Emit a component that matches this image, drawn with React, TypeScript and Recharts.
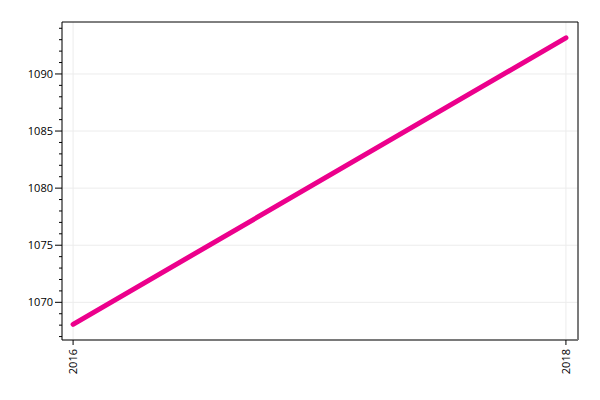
import React from "react";
import { LineChart, Line, XAxis, YAxis, CartesianGrid, ReferenceLine } from "recharts";

const years = [2016, 2018];
const values = [1068.07, 1093.16];
const yMajor = [1070, 1075, 1080, 1085, 1090];
const yMinor = Array.from({ length: 28 }, (_, i) => 1067 + i);
const xTicks = [2016, 2018];

const data = years.map((y, i) => ({ year: y, value: values[i] }));

const X_DOMAIN: [number, number] = [2015.955, 2018.049];
const Y_DOMAIN: [number, number] = [1066.7, 1094.55];

const FONT = "'Open Sans', sans-serif";

const YTick = (props: any) => {
  const { x, y, payload } = props;
  const major = payload.value % 5 === 0;
  return (
    <g>
      <line x1={x - (major ? 7 : 3)} x2={x} y1={y} y2={y} stroke="#000" strokeWidth={1} />
      {major && (
        <text x={x - 9} y={y} dy="0.35em" textAnchor="end" fontSize={11} fontFamily={FONT} fill="#000">
          {payload.value}
        </text>
      )}
    </g>
  );
};

const XTick = (props: any) => {
  const { x, y, payload } = props;
  return (
    <g>
      <line x1={x} x2={x} y1={y - 9} y2={y - 4} stroke="#000" strokeWidth={1} />
      <text
        x={x}
        y={y}
        dy="0.35em"
        textAnchor="end"
        transform={`rotate(-90, ${x}, ${y})`}
        fontSize={11}
        fontFamily={FONT}
        fill="#000"
      >
        {payload.value}
      </text>
    </g>
  );
};

export default function App() {
  return (
    <div style={{ width: 600, height: 400 }}>
      <LineChart width={600} height={400} data={data} margin={{ top: 14, right: 30, bottom: 28, left: 0 }}>
        <CartesianGrid horizontal={false} stroke="#ececec" />
        {yMajor.map((v) => (
          <ReferenceLine key={v} y={v} stroke="#ececec" />
        ))}
        <ReferenceLine y={Y_DOMAIN[1]} stroke="#000" ifOverflow="visible" />
        <ReferenceLine x={X_DOMAIN[1]} stroke="#000" ifOverflow="visible" />
        <XAxis
          dataKey="year"
          type="number"
          domain={X_DOMAIN}
          allowDataOverflow
          ticks={xTicks}
          height={40}
          tickSize={5}
          tickMargin={4}
          tickLine={false}
          tick={<XTick />}
          axisLine={{ stroke: "#7a7a7a", strokeWidth: 2 }}
          interval={0}
        />
        <YAxis
          type="number"
          domain={Y_DOMAIN}
          ticks={yMinor}
          interval={0}
          width={54}
          tickSize={0}
          tickMargin={0}
          tickLine={false}
          tick={<YTick />}
          axisLine={{ stroke: "#000" }}
          allowDataOverflow
        />
        <Line
          dataKey="value"
          stroke="#EC008C"
          strokeWidth={5}
          strokeLinecap="round"
          dot={false}
          isAnimationActive={false}
        />
      </LineChart>
    </div>
  );
}
